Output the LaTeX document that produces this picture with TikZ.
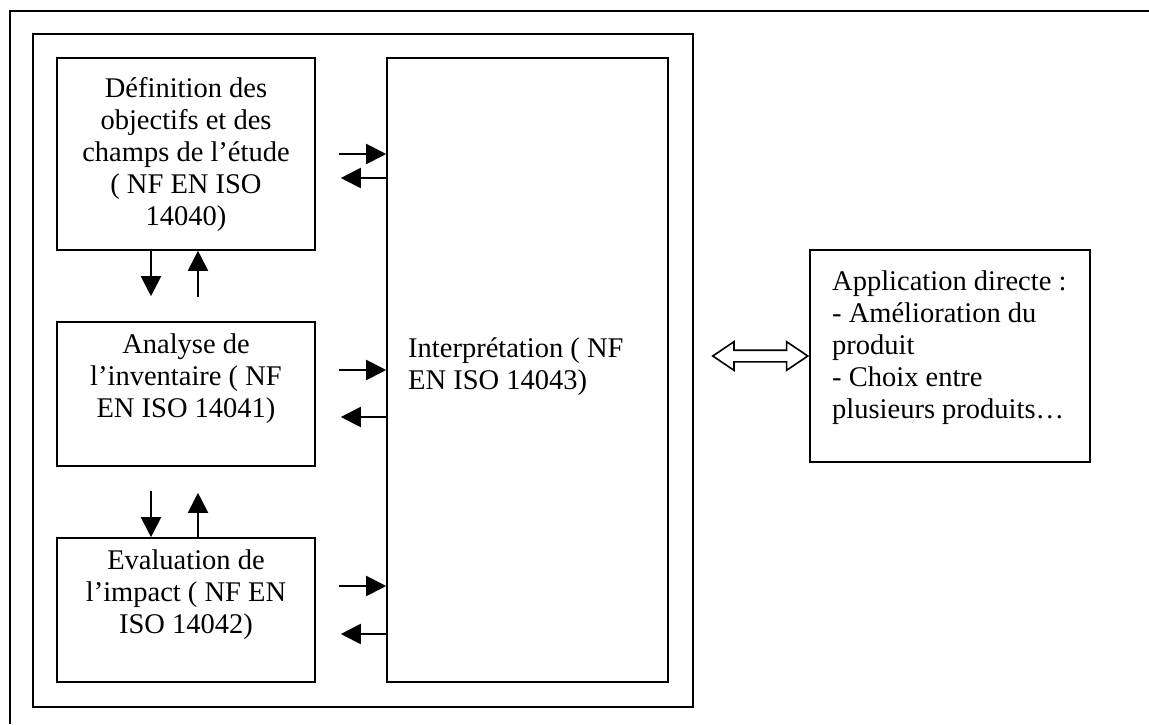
\documentclass[tikz,border=0pt]{standalone}
\usepackage{fontspec}
\setmainfont{Liberation Serif}
\usetikzlibrary{arrows.meta, positioning}
\usetikzlibrary{shapes.arrows}

\begin{document}
\begin{tikzpicture}[
        x=1pt, y=-1pt,
        box/.style={draw, rectangle, line width=1.6pt, inner sep=0pt},
        txt/.style={align=center, inner sep=0pt, font=\fontsize{28.5}{32}\selectfont},
        arr/.style={-{Triangle[length=20pt, width=20pt]}, line width=2pt},
        link/.style={double arrow, draw, fill=white, line width=1.6pt, inner sep=5pt,
            minimum height=95pt, minimum width=27pt,
            double arrow head extend=8.5pt, double arrow tip angle=68}
    ]
        \useasboundingbox (0,0) rectangle (1149,724);

        % Frames
        \draw[line width=2.4pt] (10,724) -- (10,11) -- (1149,11);
        \node[box, line width=2pt, minimum width=660pt, minimum height=673pt] (frame) at (363,370.5) {};

        % Phases
        \node[box, minimum width=258pt, minimum height=192pt] (def) at (186,154) {};
        \node[txt] (deftxt) at (def) {Définition des\\objectifs et des\\champs de l’étude\\( NF EN ISO\\14040)};

        \node[box, minimum width=258pt, minimum height=144pt] (ana) at (186,394) {};
        \node[txt, below=12pt of ana.north] (anatxt) {Analyse de\\l’inventaire ( NF\\EN ISO 14041)};

        \node[box, minimum width=258pt, minimum height=144pt] (eva) at (186,610) {};
        \node[txt, below=12pt of eva.north] (evatxt) {Evaluation de\\l’impact ( NF EN\\ISO 14042)};

        % Interpretation
        \node[box, minimum width=281pt, minimum height=624pt] (interp) at (527.5,370) {};
        \node[txt, align=left, anchor=north west] (inttxt) at (408,337) {Interprétation ( NF\\EN ISO 14043)};

        % Application
        \node[box, minimum width=280pt, minimum height=212pt] (app) at (950,356) {};
        \node[txt, align=left, anchor=north west] (apptxt) at (832,271) {Application directe :\\- Amélioration du\\produit\\- Choix entre\\plusieurs produits…};
        \node[link, anchor=east] (lnk) at (app.west) {};

        % Arrows to and from the interpretation
        \draw[arr, shorten <=23pt] (def.east) -- (def.east -| interp.west);
        \draw[arr, shorten >=25pt] ([yshift=-24pt]def.east -| interp.west) -- ([yshift=-24pt]def.east);
        \draw[arr, shorten <=23pt] ([yshift=24pt]ana.east) -- ([yshift=24pt]ana.east -| interp.west);
        \draw[arr, shorten >=25pt] ([yshift=-23pt]ana.east -| interp.west) -- ([yshift=-23pt]ana.east);
        \draw[arr, shorten <=23pt] ([yshift=24pt]eva.east) -- ([yshift=24pt]eva.east -| interp.west);
        \draw[arr, shorten >=25pt] ([yshift=-24pt]eva.east -| interp.west) -- ([yshift=-24pt]eva.east);

        % Arrows between phases
        \draw[arr, shorten >=25pt] ([xshift=-35pt]def.south) -- ([xshift=-35pt]ana.north);
        \draw[arr, shorten <=24pt] ([xshift=12pt]ana.north) -- ([xshift=12pt]def.south);
        \draw[arr, shorten <=24pt] ([xshift=-35pt]ana.south) -- ([xshift=-35pt]eva.north);
        \draw[arr, shorten >=26pt] ([xshift=12pt]eva.north) -- ([xshift=12pt]ana.south);
    \end{tikzpicture}
\end{document}
